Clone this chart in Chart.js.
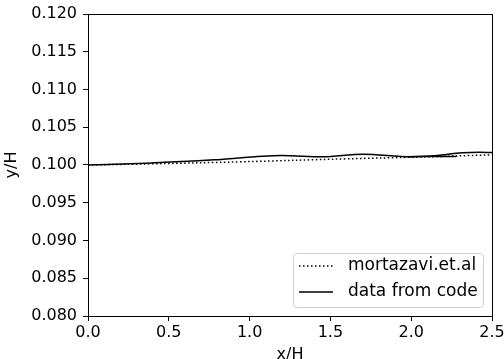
<!DOCTYPE html>
<html>
<head>
<meta charset="utf-8">
<script src="https://cdn.jsdelivr.net/npm/chart.js@4"></script>
<style>
  html, body { margin: 0; padding: 0; background: #fff; }
  #wrap { width: 504px; height: 359px; }
</style>
</head>
<body>
<div id="wrap"><canvas id="chart" width="504" height="359"></canvas></div>
<script>
// values
const xRef = [0, 0.4, 0.94, 1.6, 2.01, 2.5];
const yRef = [0.1000, 0.10016, 0.10042, 0.10082, 0.10103, 0.10135];

const xCode = [0, 0.36, 0.78, 1.08, 1.2, 1.45, 1.7, 2.0, 2.12, 2.32, 2.42, 2.5];
const yCode = [0.1000, 0.10024, 0.10069, 0.10116, 0.10125, 0.10108, 0.10143, 0.10108, 0.10118, 0.10161, 0.10168, 0.10165];

// short extra solid piece near x/H = 2
const xCode2 = [1.98, 2.1, 2.28];
const yCode2 = [0.10110, 0.10112, 0.10113];

const xTicks = [0, 0.5, 1.0, 1.5, 2.0, 2.5];
const yTicks = [0.080, 0.085, 0.090, 0.095, 0.100, 0.105, 0.110, 0.115, 0.120];

const toPts = (xs, ys) => xs.map((x, i) => ({ x: x, y: ys[i] }));
const FONT = { family: 'DejaVu Sans', size: 16 };

// frame on all four sides, like the matplotlib axes box
const framePlugin = {
  id: 'frame',
  afterDraw(chart) {
    const a = chart.chartArea, c = chart.ctx;
    c.save();
    c.strokeStyle = '#000';
    c.lineWidth = 1;
    c.strokeRect(Math.round(a.left) + 0.5, Math.round(a.top) + 0.5,
      Math.round(a.right - a.left), Math.round(a.bottom - a.top));
    c.restore();
  }
};

// legend box in the lower right of the plot
const legendBox = {
  id: 'legendBox',
  afterDraw(chart) {
    const a = chart.chartArea, c = chart.ctx;
    const items = chart.data.datasets.filter(d => d.label);
    const w = 190, h = 54, x = a.right - 9 - w, y = a.bottom - 9 - h;
    c.save();
    c.fillStyle = 'rgba(255,255,255,0.8)';
    c.strokeStyle = '#d0d0d0';
    c.lineWidth = 1;
    c.beginPath();
    c.roundRect(x + 0.5, y + 0.5, w, h, 3);
    c.fill();
    c.stroke();
    c.font = '17px "DejaVu Sans"';
    c.textBaseline = 'middle';
    c.fillStyle = '#000';
    items.forEach((d, i) => {
      const ly = y + 13 + i * 26;
      c.strokeStyle = d.borderColor;
      c.lineWidth = d.borderWidth;
      c.setLineDash(d.borderDash || []);
      c.beginPath();
      c.moveTo(x + 6, ly);
      c.lineTo(x + 40, ly);
      c.stroke();
      c.setLineDash([]);
      c.fillText(d.label, x + 55, ly);
    });
    c.restore();
  }
};

new Chart(document.getElementById('chart'), {
  type: 'line',
  data: {
    datasets: [
      {
        label: 'mortazavi.et.al',
        data: toPts(xRef, yRef),
        borderColor: '#000',
        borderWidth: 1.5,
        borderDash: [1.5, 2.5],
        pointRadius: 0,
        tension: 0.4
      },
      {
        label: 'data from code',
        data: toPts(xCode, yCode),
        borderColor: '#000',
        borderWidth: 1.5,
        pointRadius: 0,
        cubicInterpolationMode: 'monotone'
      },
      {
        label: '',
        data: toPts(xCode2, yCode2),
        borderColor: '#000',
        borderWidth: 1.5,
        pointRadius: 0,
        tension: 0.4
      }
    ]
  },
  options: {
    responsive: false,
    animation: false,
    layout: { padding: { top: 14, right: 12, left: 0, bottom: 0 } },
    plugins: { legend: { display: false }, tooltip: { enabled: false } },
    scales: {
      x: {
        type: 'linear',
        min: 0, max: 2.5,
        afterBuildTicks: s => { s.ticks = xTicks.map(v => ({ value: v })); },
        afterFit: s => { s.height = 43; s.paddingLeft = 0; s.paddingRight = 0; },
        ticks: { color: '#000', font: FONT, padding: 2, maxRotation: 0,
                 callback: v => v.toFixed(1) },
        grid: { drawOnChartArea: false, drawTicks: true, tickLength: 5, color: '#000' },
        border: { display: true, color: '#000' },
        title: { display: true, text: 'x/H', color: '#000', font: { family: 'DejaVu Sans', size: 16, lineHeight: 1 },
                 padding: { top: 0, bottom: -4 } }
      },
      y: {
        min: 0.08, max: 0.12,
        afterBuildTicks: s => { s.ticks = yTicks.map(v => ({ value: v })); },
        afterFit: s => { s.width = 88; s.paddingTop = 0; s.paddingBottom = 0; },
        ticks: { color: '#000', font: FONT, padding: 6,
                 callback: v => v.toFixed(3) },
        grid: { drawOnChartArea: false, drawTicks: true, tickLength: 5, color: '#000' },
        border: { display: true, color: '#000' },
        title: { display: true, text: 'y/H', color: '#000', font: { family: 'DejaVu Sans', size: 16, lineHeight: 1 },
                 padding: { top: 4, bottom: 0 } }
      }
    }
  },
  plugins: [framePlugin, legendBox]
});
</script>
</body>
</html>
